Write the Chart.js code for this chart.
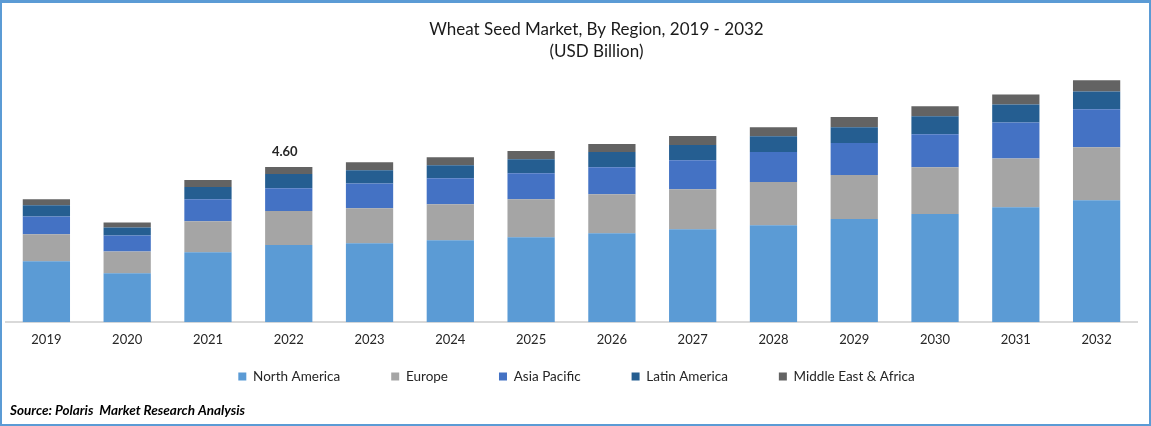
<!DOCTYPE html>
<html>
<head>
<meta charset="utf-8">
<title>Wheat Seed Market</title>
<script src="https://cdn.jsdelivr.net/npm/chart.js@4/dist/chart.umd.min.js"></script>
<style>
    html, body { margin: 0; padding: 0; background: #fff; overflow: hidden; }
    #wrap { position: relative; width: 1151px; height: 426px; }
    #frame { position: absolute; left: 0; top: 0; right: 0; bottom: 0; border: 2px solid #5b9bd5; border-top-width: 3px; pointer-events: none; }
</style>
</head>
<body>
<div id="wrap">
    <canvas id="market-chart" width="1151" height="426"></canvas>
    <div id="frame"></div>
</div>
<script>
var years = ['2019', '2020', '2021', '2022', '2023', '2024', '2025', '2026', '2027', '2028', '2029', '2030', '2031', '2032'];
var northAmerica = [1.81, 1.45, 2.08, 2.29, 2.34, 2.43, 2.52, 2.64, 2.76, 2.88, 3.06, 3.21, 3.41, 3.62];
var europe = [0.80, 0.65, 0.92, 1.01, 1.04, 1.07, 1.13, 1.16, 1.19, 1.28, 1.31, 1.39, 1.45, 1.57];
var asiaPacific = [0.53, 0.47, 0.65, 0.68, 0.74, 0.77, 0.77, 0.80, 0.86, 0.89, 0.95, 0.98, 1.07, 1.13];
var latinAmerica = [0.33, 0.24, 0.36, 0.42, 0.39, 0.39, 0.42, 0.45, 0.45, 0.47, 0.47, 0.53, 0.53, 0.53];
var middleEast = [0.18, 0.15, 0.21, 0.21, 0.24, 0.24, 0.24, 0.24, 0.27, 0.27, 0.30, 0.30, 0.30, 0.33];
var annotatedYear = '2022';
var annotatedText = '4.60';

var fontName = 'Lato, Carlito, sans-serif';
var sourceText = 'Source: Polaris  Market Research Analysis';

// writes the one total shown in the source, above the 2022 bar
var totalLabel = {
    id: 'totalLabel',
    afterDatasetsDraw: function(chart) {
        var index = years.indexOf(annotatedYear);
        var bar = chart.getDatasetMeta(chart.data.datasets.length - 1).data[index];
        var ctx = chart.ctx;
        ctx.save();
        ctx.font = 'bold 13px ' + fontName;
        ctx.fillStyle = '#262626';
        ctx.textAlign = 'center';
        ctx.textBaseline = 'bottom';
        ctx.fillText(annotatedText, bar.x - 4, bar.y - 9);
        ctx.restore();
    }
};

// the legend's label padding also pushes it down, and the title sits off centre in the source
var nudgeBoxes = {
    id: 'nudgeBoxes',
    afterLayout: function(chart) {
        chart.legend.top -= 31;
        chart.legend.left += 5;
        chart.legend.right += 5;
        chart.titleBlock.left += 25;
        chart.titleBlock.right += 25;
        chart.boxes.forEach(function(box) {
            if (box.options && box.options.text === sourceText) {
                box.left += 4;
            }
        });
    }
};

function series(label, values, colour) {
    return { label: label, data: values, backgroundColor: colour, barPercentage: 0.585, categoryPercentage: 1 };
}

new Chart(document.getElementById('market-chart'), {
    type: 'bar',
    data: {
        labels: years,
        datasets: [
            series('North America', northAmerica, '#5b9bd5'),
            series('Europe', europe, '#a5a5a5'),
            series('Asia Pacific', asiaPacific, '#4472c4'),
            series('Latin America', latinAmerica, '#255e91'),
            series('Middle East & Africa', middleEast, '#636363')
        ]
    },
    options: {
        responsive: false,
        animation: false,
        devicePixelRatio: 1,
        layout: { padding: { left: 6, right: 14, top: 18, bottom: 5 } },
        scales: {
            x: {
                stacked: true,
                grid: { display: false },
                border: { color: '#d9d9d9', width: 2 },
                ticks: { color: '#262626', font: { family: fontName, size: 13 }, padding: 2, maxRotation: 0 }
            },
            y: { stacked: true, display: false, min: 0, max: 7.54 }
        },
        plugins: {
            tooltip: { enabled: false },
            title: {
                display: true,
                text: ['Wheat Seed Market, By Region, 2019 - 2032', '(USD Billion)'],
                color: '#1a1a1a',
                font: { family: fontName, size: 17, weight: 'normal', lineHeight: 1.3 },
                padding: { top: 0, bottom: 6 }
            },
            legend: {
                position: 'bottom',
                weight: 1000,
                maxHeight: 53,
                labels: {
                    color: '#262626',
                    font: { family: fontName, size: 13.5 },
                    boxWidth: 8,
                    boxHeight: 8,
                    padding: 51
                }
            },
            subtitle: {
                display: true,
                position: 'bottom',
                align: 'start',
                weight: 1500,
                text: sourceText,
                color: '#000',
                font: { family: fontName, size: 13.5, weight: 'bold', style: 'italic' },
                padding: { top: 0, bottom: 2 }
            }
        }
    },
    plugins: [totalLabel, nudgeBoxes]
});
</script>
</body>
</html>
